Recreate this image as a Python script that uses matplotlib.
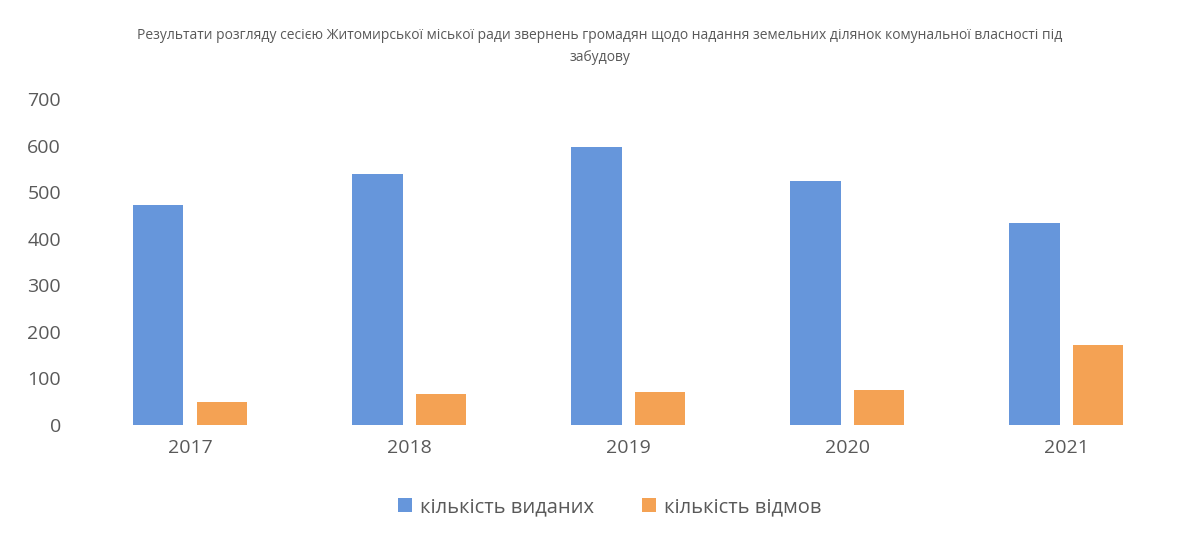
import matplotlib
matplotlib.use('agg')
import matplotlib.pyplot as plt
import numpy as np

plt.rcParams['font.family'] = ['Open Sans', 'DejaVu Sans']

years = ['2017', '2018', '2019', '2020', '2021']
issued = [472, 539, 597, 524, 434]      # кількість виданих
refused = [49, 67, 71, 75, 172]         # кількість відмов

title = ('Результати розгляду сесією Житомирської міської ради звернень громадян щодо надання '
         'земельних ділянок комунальної власності під\nзабудову')

blue = '#6696DB'
orange = '#F4A254'
grey = '#595959'

fig = plt.figure(figsize=(12, 5.47), dpi=100)
ax = fig.add_axes([0.067, 0.223, 0.913, 0.596])

x = np.arange(len(years))
w = 0.23
ax.bar(x - 0.145, issued, w, color=blue, label='кількість виданих')
ax.bar(x + 0.145, refused, w, color=orange, label='кількість відмов')

ax.set_xlim(-0.5, len(years) - 0.5)
ax.set_ylim(0, 700)
ax.set_yticks(range(0, 701, 100))
ax.set_xticks(x)
ax.set_xticklabels(years)
ax.tick_params(length=0, labelsize=14, colors=grey)
ax.tick_params(axis='x', pad=10)
ax.tick_params(axis='y', pad=14)
for s in ax.spines.values():
    s.set_visible(False)

fig.text(0.5, 0.915, title, ha='center', va='center', fontsize=10, color=grey,
         linespacing=1.65)

fig.legend(loc='center', bbox_to_anchor=(0.508, 0.073), ncol=2, frameon=False,
           fontsize=14.5, labelcolor=grey, handlelength=0.7, handleheight=0.7,
           columnspacing=2.4, handletextpad=0.4)

fig.savefig('out.png', dpi=100, facecolor='white')
